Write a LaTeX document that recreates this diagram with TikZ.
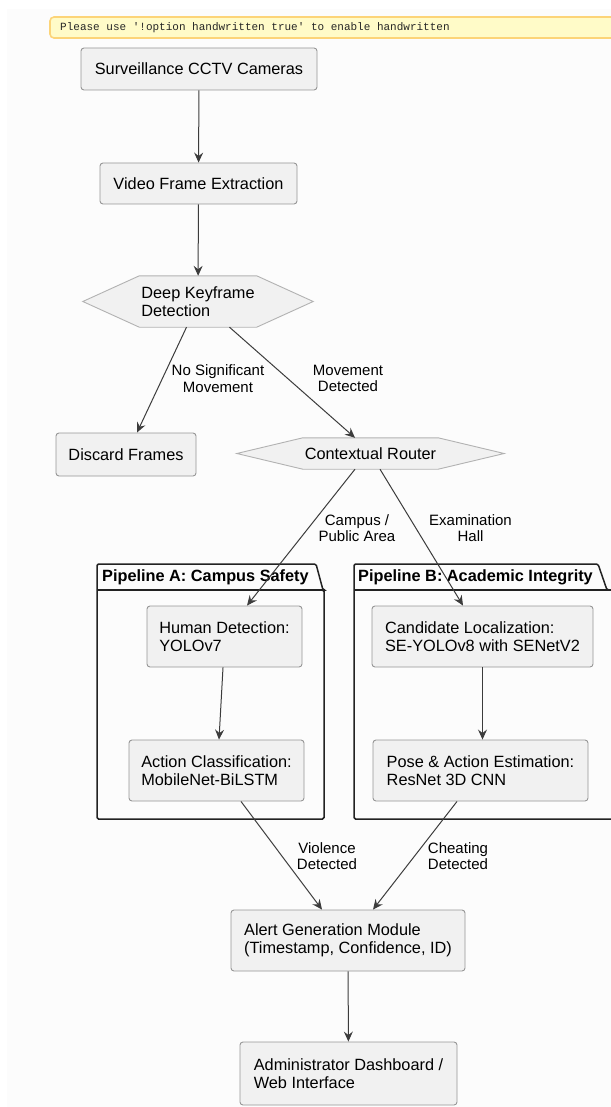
\documentclass[tikz,border=0pt]{standalone}
\usepackage{fontspec}
\setmainfont{Liberation Sans}
\newfontfamily\bannerfont{Liberation Mono}
\usetikzlibrary{arrows.meta,positioning}
\pgfdeclarelayer{background}
\pgfsetlayers{background,main}
\definecolor{umlpage}{RGB}{252,252,252}
\definecolor{umlboxfill}{RGB}{241,241,241}
\definecolor{umlboxline}{RGB}{150,150,150}
\definecolor{umlhexline}{RGB}{178,178,178}
\definecolor{umlarrow}{RGB}{60,60,60}
\definecolor{umlframe}{RGB}{34,34,34}
\definecolor{umlnotefill}{RGB}{255,251,200}
\definecolor{umlnoteline}{RGB}{252,212,120}

\begin{document}
\begin{tikzpicture}[x=1pt, y=-1pt,
                    stage/.style = {
                      rectangle, rounded corners=3pt, align=left,
                      draw=umlboxline, fill=umlboxfill, line width=0.9pt,
                      inner sep=0pt, text=black,
                      font=\fontsize{16.3}{18.3}\selectfont
                    },
                    decision/.style = {
                      rectangle, align=left, inner sep=0pt, text=black,
                      font=\fontsize{16.3}{18.3}\selectfont
                    },
                    hexline/.style = {
                      draw=umlhexline, fill=umlboxfill, line width=0.9pt
                    },
                    guard/.style = {
                      align=center, inner sep=0pt, text=black,
                      font=\fontsize{15}{16.3}\selectfont
                    },
                    flow/.style = {
                      draw=umlarrow, line width=1pt,
                      -{Stealth[length=10pt, width=9pt, inset=3.5pt]}
                    },
                    pack/.style = {
                      draw=umlframe, line width=1.5pt, rounded corners=1.5pt
                    },
                    packtitle/.style = {
                      anchor=west, inner sep=0pt, text=black,
                      font=\bfseries\fontsize{16.3}{18}\selectfont
                    }]
    \useasboundingbox (0,0) rectangle (610,1107);

    % warning banner
    \draw[umlnoteline, fill=umlnotefill, line width=1.6pt, rounded corners=4pt]
      (50,17) rectangle (630,38);
    \node(banner)[anchor=west, inner sep=0pt, text=black!85,
                  font=\bannerfont\fontsize{11}{12}\selectfont] at (60,27.5)
      {Please use \textquotesingle!option handwritten true\textquotesingle{} to enable handwritten};

    % packages
    \draw[pack] (97,590) -- (97,564) -- (316,564) -- (323,590) -- (324,590)
      -- (324,819) -- (97,819) -- cycle;
    \draw[pack] (97,590) -- (324,590);
    \draw[pack] (354,590) -- (354,564) -- (598,564) -- (607,590) -- (618,590)
      -- (618,819) -- (354,819) -- cycle;
    \draw[pack] (354,590) -- (618,590);
    \node(titleA)[packtitle] at (102,577) {Pipeline A: Campus Safety};
    \node(titleB)[packtitle] at (358,577) {Pipeline B: Academic Integrity};

    \node(cameras)[stage, minimum width=236, minimum height=42] at (199,69)
      {Surveillance CCTV Cameras};
    \node(video)[stage, minimum width=197, minimum height=41] at (198.5,183.5)
      {Video Frame Extraction};
    \node(keyframe)[decision, minimum width=117, minimum height=51] at (198,301.5)
      {Deep Keyframe\\Detection};
    \node(discard)[stage, minimum width=140, minimum height=43] at (126,454.5)
      {Discard Frames};
    \node(router)[decision, minimum width=135, minimum height=31] at (370.5,453.5)
      {Contextual Router};

    \node(human)[stage, minimum width=155, minimum height=61] at (224.5,636.5)
      {Human Detection:\\YOLOv7};
    \node(action)[stage, minimum width=175, minimum height=61] at (216.5,770.5)
      {Action Classification:\\MobileNet-BiLSTM};
    \node(candidate)[stage, minimum width=221, minimum height=61] at (482.5,636.5)
      {Candidate Localization:\\SE-YOLOv8 with SENetV2};
    \node(pose)[stage, minimum width=215, minimum height=61] at (480.5,770.5)
      {Pose \& Action Estimation:\\ResNet 3D CNN};

    \node(alert)[stage, minimum width=234, minimum height=61] at (348,940.5)
      {Alert Generation Module\\(Timestamp, Confidence, ID)};
    \node(admin)[stage, minimum width=217, minimum height=63] at (348.5,1073.5)
      {Administrator Dashboard /\\Web Interface};

    % hexagon outlines go under the text
    \begin{pgfonlayer}{background}
      \fill[umlpage] (7,9) rectangle (614,1110);
      \path[hexline] (keyframe.north west) -- (keyframe.north east)
        -- ([xshift=56.5pt]keyframe.east) -- (keyframe.south east)
        -- (keyframe.south west) -- ([xshift=-56.5pt]keyframe.west) -- cycle;
      \path[hexline] (router.north west) -- (router.north east)
        -- ([xshift=66pt]router.east) -- (router.south east)
        -- (router.south west) -- ([xshift=-66pt]router.west) -- cycle;
    \end{pgfonlayer}

    \path (cameras) edge[flow] (video);
    \path (video) edge[flow] (keyframe);
    \path ([xshift=-11.5pt]keyframe.south) edge[flow] ([xshift=11pt]discard.north);
    \path ([xshift=31.5pt]keyframe.south) edge[flow] ([xshift=-15.5pt]router.north);
    \path ([xshift=-15.5pt]router.south) edge[flow] ([xshift=22.5pt]human.north);
    \path ([xshift=9.5pt]router.south) edge[flow] ([xshift=-19.5pt]candidate.north);
    \path ([xshift=-1.5pt]human.south) edge[flow] ([xshift=2.5pt]action.north);
    \path (candidate.south) edge[flow] ([xshift=2pt]pose.north);
    \path ([xshift=24.5pt]action.south) edge[flow] ([xshift=-26pt]alert.north);
    \path ([xshift=-23.5pt]pose.south) edge[flow] ([xshift=25pt]alert.north);
    \path (alert) edge[flow] (admin);

    \node(nomove)[guard] at (218,378.5) {No Significant\\Movement};
    \node(moved)[guard] at (348,378.5) {Movement\\Detected};
    \node(campus)[guard] at (357,528) {Campus /\\Public Area};
    \node(exam)[guard] at (470.5,528) {Examination\\Hall};
    \node(violence)[guard] at (327,856) {Violence\\Detected};
    \node(cheating)[guard] at (458,856) {Cheating\\Detected};
  \end{tikzpicture}
\end{document}
